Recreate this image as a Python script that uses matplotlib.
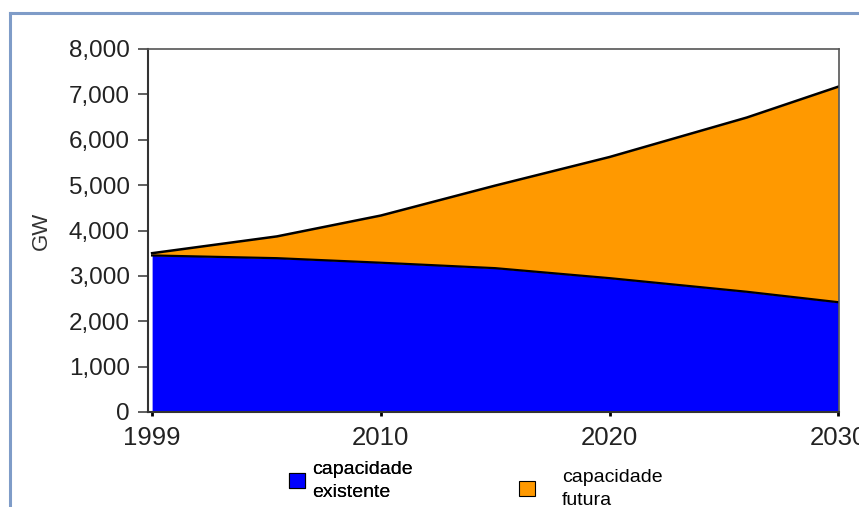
import numpy as np
import matplotlib.pyplot as plt
from matplotlib.lines import Line2D
from matplotlib.patches import Patch

plt.rcParams['font.family'] = ['Liberation Sans', 'DejaVu Sans']

# capacity in GW
years = [1999, 2005, 2010, 2015, 2020, 2026, 2030]
existente = [3450, 3390, 3290, 3170, 2950, 2650, 2420]
total = [3500, 3870, 4330, 4990, 5620, 6490, 7170]

tick_years = [1999, 2010, 2020, 2030]
tick_labels = ['1999', '2010', '2020', '2030']
y_ticks = [0, 1000, 2000, 3000, 4000, 5000, 6000, 7000, 8000]

blue = '#0000ff'
orange = '#ff9900'

# categories are evenly spaced on the axis
tick_pos = np.arange(len(tick_years)) * 10.0
x = np.interp(years, tick_years, tick_pos)

fig = plt.figure(figsize=(8.59, 5.07), dpi=100)
ax = fig.add_axes([148/859, 1-412/507, 691/859, 363/507])

ax.fill_between(x, 0, existente, color=blue, lw=0)
ax.fill_between(x, existente, total, color=orange, lw=0)
ax.plot(x, existente, color='black', lw=1.6)
ax.plot(x, total, color='black', lw=1.8)

ax.set_xlim(-0.18, 30.03)
ax.set_ylim(0, 8000)
ax.set_yticks(y_ticks)
ax.set_yticklabels(['{:,}'.format(v) for v in y_ticks], fontsize=17.5, color='#222222')
ax.set_xticks(tick_pos)
ax.set_xticklabels(tick_labels, fontsize=18.5, color='#222222')
ax.tick_params(axis='y', length=7, width=1.2, color='#444444', pad=6)
ax.tick_params(axis='x', length=3, width=2, color='black', pad=7)
ax.set_ylabel('GW', fontsize=16, color='#333333', labelpad=12)

for side in ['left', 'bottom']:
    ax.spines[side].set_linewidth(1.5)
    ax.spines[side].set_color('#333333')
for side in ['top', 'right']:
    ax.spines[side].set_linewidth(1.2)
    ax.spines[side].set_color('#555555')

# legend, two separate entries below the axis
leg_kw = dict(loc='upper left', frameon=False, fontsize=14,
              handlelength=0.8, handleheight=0.8, labelspacing=0.1,
              borderpad=0, borderaxespad=0)
leg1 = fig.legend(handles=[Patch(facecolor=blue, edgecolor='black', lw=0.8)],
                  labels=['capacidade\nexistente'],
                  bbox_to_anchor=(289/859, 1-461/507),
                  handletextpad=0.4, **leg_kw)
leg2 = fig.legend(handles=[Patch(facecolor=orange, edgecolor='black', lw=0.8)],
                  labels=['capacidade\nfutura'],
                  bbox_to_anchor=(519/859, 1-469/507),
                  handletextpad=1.4, **leg_kw)
for leg in (leg1, leg2):
    for t in leg.get_texts():
        t.set_linespacing(1.45)
fig.add_artist(leg1)

# outer frame edges
fig.add_artist(Line2D([10/859, 10/859], [0, 1-13/507], color='#7f9cc8', lw=2.2))
fig.add_artist(Line2D([10/859, 1], [1-13/507, 1-13/507], color='#7f9cc8', lw=2.2))

fig.savefig('out.png', dpi=100)
